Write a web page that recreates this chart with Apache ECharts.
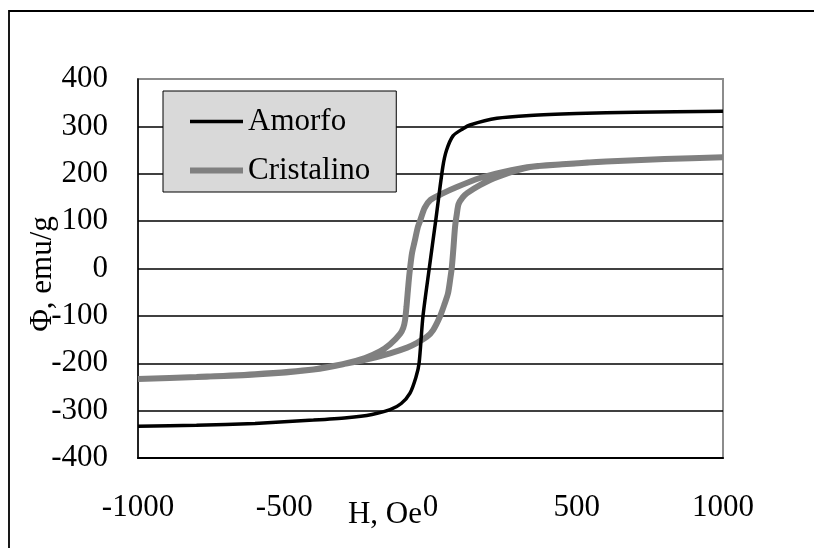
<!DOCTYPE html>
<html>
<head>
<meta charset="utf-8">
<script src="https://cdn.jsdelivr.net/npm/echarts@6/dist/echarts.min.js"></script>
<style>
html,body{margin:0;padding:0;background:#fff;}
#chart{width:814px;height:548px;}
</style>
</head>
<body>
<div id="chart"></div>
<script>
const seriesNames = ['Amorfo', 'Cristalino'];
const xTicks = [-1000, -500, 0, 500, 1000];
const yTicks = [-400, -300, -200, -100, 0, 100, 200, 300, 400];

const amorfoH   = [-1000,-800,-600,-400,-286,-200,-138,-100,-70,-50,-39,-26,-5,18,42,55,77,111,135,227,340,500,700,1000];
const amorfoPhi = [-333,-331,-327,-320,-315,-308,-298,-285,-263,-230,-200,-102,-3,102,214,250,280,295,303,317,323,327,330,332];

const cristDownH   = [1000,800,600,450,330,250,169,90,40,0,-20,-36,-43,-55,-63,-70,-75,-82,-87,-93,-104,-138,-173,-224,-300,-400,-600,-800,-1000];
const cristDownPhi = [235,231,226,220,214,204,191,172,158,145,128,100,88,55,33,0,-30,-80,-109,-125,-138,-160,-175,-189,-202,-213,-223,-229,-233];
const cristUpH   = [-800,-600,-400,-300,-224,-138,-80,-46,-12,9,32,48,60,68,73,78,84,90,96,110,125,169,227,340,450,600,800,1000];
const cristUpPhi = [-229,-224,-213,-202,-193,-179,-167,-157,-144,-130,-102,-75,-52,-20,3,40,88,115,136,150,159,176,193,214,220,226,231,235];

const pairs = (xs, ys) => xs.map((x, i) => [x, ys[i]]);
const amorfoData = pairs(amorfoH, amorfoPhi);
const cristData = pairs(cristDownH, cristDownPhi).concat(pairs(cristUpH, cristUpPhi));

const FONT = '"Liberation Serif", "Times New Roman", serif';
const chart = echarts.init(document.getElementById('chart'), null, {renderer: 'canvas'});
const ySplitColors = yTicks.map((v, i) => i === yTicks.length - 1 ? '#8c8c8c' : '#000');

chart.setOption({
  animation: false,
  backgroundColor: '#fff',
  graphic: [{
    type: 'rect', silent: true, z: -10,
    shape: {x: 9, y: 11, width: 900, height: 700},
    style: {fill: 'none', stroke: '#000', lineWidth: 1.8}
  }],
  grid: {
    left: 138, right: 91, top: 79, bottom: 90,
    containLabel: false,
    outerBoundsMode: 'none',
    show: true, borderColor: '#8c8c8c', borderWidth: 2, backgroundColor: 'transparent'
  },
  legend: {
    data: seriesNames,
    orient: 'vertical',
    left: 163, top: 91,
    padding: [15, 26, 6, 24],
    itemGap: 18,
    itemWidth: 53, itemHeight: 20,
    backgroundColor: '#d9d9d9',
    borderColor: '#000', borderWidth: 1,
    itemStyle: {opacity: 0},
    lineStyle: {width: 'inherit'},
    textStyle: {fontFamily: FONT, fontSize: 31, color: '#000'}
  },
  xAxis: {
    type: 'value',
    min: xTicks[0], max: xTicks[xTicks.length - 1], interval: 500,
    name: 'H, Oe',
    nameLocation: 'middle',
    nameGap: 41,
    nameMoveOverlap: false,
    nameTextStyle: {fontFamily: FONT, fontSize: 31, color: '#000', padding: [0, 91, 0, 0]},
    axisLine: {show: true, onZero: false, lineStyle: {color: '#000', width: 2}},
    axisTick: {show: false},
    axisLabel: {fontFamily: FONT, fontSize: 31, color: '#000', margin: 34, formatter: v => String(v)},
    splitLine: {show: false}
  },
  yAxis: {
    type: 'value',
    min: yTicks[0], max: yTicks[yTicks.length - 1], interval: 100,
    name: 'Φ, emu/g',
    nameLocation: 'middle',
    nameGap: 80,
    nameMoveOverlap: false,
    nameTextStyle: {fontFamily: FONT, fontSize: 31, color: '#000', padding: [0, 11, 0, 0]},
    axisLine: {show: true, onZero: false, lineStyle: {color: '#000', width: 1.5}},
    axisTick: {show: false},
    axisLabel: {fontFamily: FONT, fontSize: 31, color: '#000', margin: 30, formatter: v => String(v)},
    splitLine: {show: true, lineStyle: {color: ySplitColors, width: 1.5}}
  },
  series: [
    {
      name: 'Cristalino', type: 'line', data: cristData,
      showSymbol: false, symbol: 'none', smooth: 0.25,
      lineStyle: {color: '#808080', width: 6},
      itemStyle: {color: '#808080'}, z: 2
    },
    {
      name: 'Amorfo', type: 'line', data: amorfoData,
      showSymbol: false, symbol: 'none', smooth: 0.25,
      lineStyle: {color: '#000', width: 3.5},
      itemStyle: {color: '#000'}, z: 3
    }
  ]
});
</script>
</body>
</html>
